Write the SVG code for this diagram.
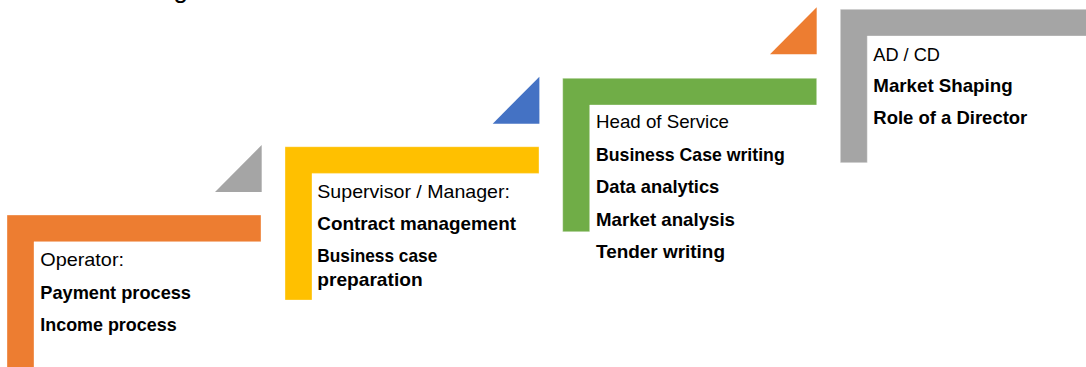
<svg xmlns="http://www.w3.org/2000/svg" xmlns:xlink="http://www.w3.org/1999/xlink" width="1086" height="367" viewBox="0 0 1086 367">
  <style>
    .t { font-family: "Liberation Sans", Arial, sans-serif; font-size: 18.5px; fill: #000; }
    .b { font-weight: bold; }
    .step { stroke: #ffffff; stroke-opacity: 0.35; stroke-width: 1; }
  </style>
  <defs>
    <!-- L-shaped step: top bar plus left post -->
    <path id="stepL" class="step" d="M0,0 H254 V26.7 H27 V153.4 H0 Z"/>
    <!-- right-angled rising triangle between steps -->
    <path id="riser" d="M46.7,0 V47 H0 Z"/>
  </defs>

  <rect width="1086" height="367" fill="#ffffff"/>

  <!-- heading, mostly above the frame -->
  <text class="t" x="188" y="-2.5" text-anchor="end" style="font-size:26px">ng</text>

  <g id="connectors">
    <use xlink:href="#riser" transform="translate(215,145)" fill="#A5A5A5"/>
    <use xlink:href="#riser" transform="translate(492.7,76.7)" fill="#4472C4"/>
    <use xlink:href="#riser" transform="translate(770,7.3)" fill="#ED7D31"/>
  </g>

  <g id="operator">
    <use xlink:href="#stepL" transform="translate(7,215)" fill="#ED7D31"/>
    <text class="t" x="40.3" y="265.7" textLength="83.7" lengthAdjust="spacingAndGlyphs">Operator:</text>
    <text class="t b" x="40.3" y="299.3" textLength="150.7" lengthAdjust="spacingAndGlyphs">Payment process</text>
    <text class="t b" x="40.3" y="330.5" textLength="136.3" lengthAdjust="spacingAndGlyphs">Income process</text>
  </g>

  <g id="supervisor">
    <use xlink:href="#stepL" transform="translate(285,146.7)" fill="#FFC000"/>
    <text class="t" x="317.3" y="197.7" textLength="192.7" lengthAdjust="spacingAndGlyphs">Supervisor / Manager:</text>
    <text class="t b" x="317.3" y="230" textLength="198.7" lengthAdjust="spacingAndGlyphs">Contract management</text>
    <text class="t b" x="317.3" y="262.3" textLength="120" lengthAdjust="spacingAndGlyphs">Business case</text>
    <text class="t b" x="317.3" y="285.7" textLength="105.3" lengthAdjust="spacingAndGlyphs">preparation</text>
  </g>

  <g id="head-of-service">
    <use xlink:href="#stepL" transform="translate(562.7,78.3)" fill="#70AD47"/>
    <text class="t" x="596" y="128.3" textLength="133" lengthAdjust="spacingAndGlyphs">Head of Service</text>
    <text class="t b" x="596" y="160.7" textLength="188.7" lengthAdjust="spacingAndGlyphs">Business Case writing</text>
    <text class="t b" x="596" y="193.3" textLength="123.3" lengthAdjust="spacingAndGlyphs">Data analytics</text>
    <text class="t b" x="596" y="225.7" textLength="139" lengthAdjust="spacingAndGlyphs">Market analysis</text>
    <text class="t b" x="596" y="257.7" textLength="129" lengthAdjust="spacingAndGlyphs">Tender writing</text>
  </g>

  <g id="director">
    <use xlink:href="#stepL" transform="translate(840.3,9.3)" fill="#A5A5A5"/>
    <text class="t" x="873.3" y="60.7" textLength="66.7" lengthAdjust="spacingAndGlyphs">AD / CD</text>
    <text class="t b" x="873.3" y="91.7" textLength="139.3" lengthAdjust="spacingAndGlyphs">Market Shaping</text>
    <text class="t b" x="873.3" y="124.3" textLength="154" lengthAdjust="spacingAndGlyphs">Role of a Director</text>
  </g>
</svg>
